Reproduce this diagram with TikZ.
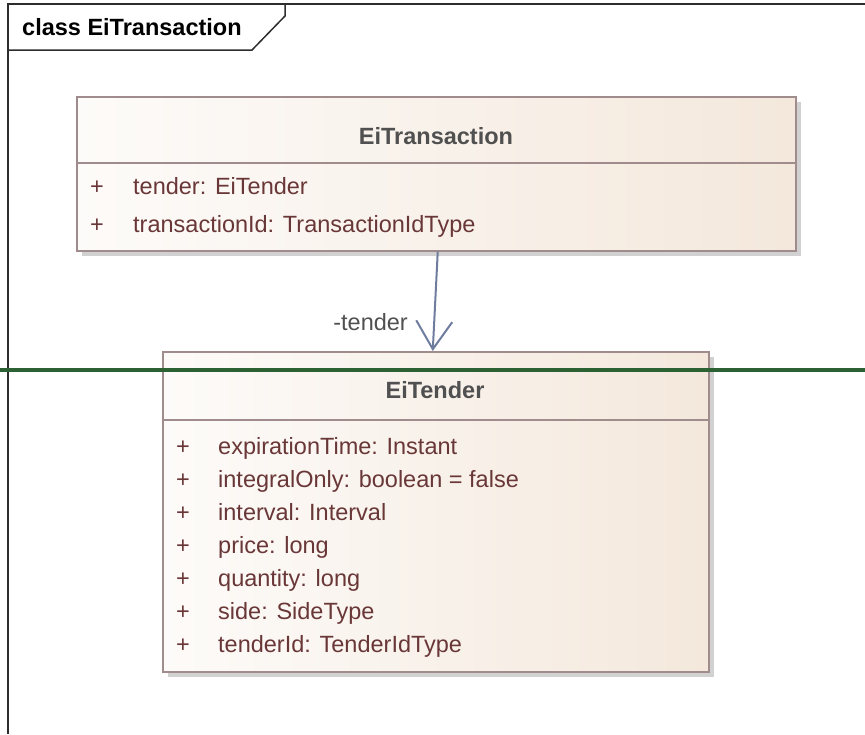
\documentclass[tikz,border=0pt]{standalone}
\usepackage{fontspec}
\setmainfont{Liberation Sans}
\usepackage{xcolor}
\usetikzlibrary{arrows.meta, shadows}
\definecolor{BoxLeft}{RGB}{253,251,249}
\definecolor{BoxRight}{RGB}{244,232,220}
\definecolor{BoxLine}{RGB}{160,140,140}
\definecolor{AttrText}{RGB}{105,55,55}
\definecolor{TitleText}{RGB}{80,80,80}
\definecolor{Assoc}{RGB}{110,124,158}
\definecolor{FrameLine}{RGB}{45,45,45}
\definecolor{Divider}{RGB}{44,98,51}
\tikzset{
umlbox/.style={rectangle, draw=BoxLine, line width=1.5pt, left color=BoxLeft, right color=BoxRight, anchor=north west, inner sep=0pt, drop shadow={shadow xshift=5pt, shadow yshift=-5pt, fill=black!18, opacity=1}},
boxline/.style={draw=BoxLine, line width=1.5pt},
}
\begin{document}
\begin{tikzpicture}[
  x=1pt, y=-1pt,
  every node/.style={inner sep=0pt, text height=19pt, text depth=5pt},
  umltitle/.style={font=\fontsize{23.5}{24}\selectfont\bfseries, text=TitleText},
  attr/.style={anchor=west, font=\fontsize{23.5}{24}\selectfont, text=AttrText},
  vis/.style={font=\fontsize{23.5}{24}\selectfont, text=AttrText},
  rolelbl/.style={anchor=east, font=\fontsize{23.5}{24}\selectfont, text=TitleText},
  frame/.style={draw=FrameLine, line width=1.5pt},
]
\useasboundingbox (0,0) rectangle (865,734);

%% ---- diagram frame ----
\draw[frame] (8,734) -- (8,4) -- (865,4);
\draw[frame] (285,4) -- (285,16) -- (252,50) -- (8,50);
\node[anchor=west, font=\fontsize{23.5}{24}\selectfont\bfseries] (frametitle) at (22,28) {class EiTransaction};

%% ---- EiTransaction ----
\node[umlbox, minimum width=719pt, minimum height=154pt, text height=, text depth=] (trans) at (76,96) {};
\draw[boxline] (trans.west |- 0,163) -- (trans.east |- 0,163);
\node[umltitle] (transname) at (436,137) {EiTransaction};
\foreach \txt [count=\i] in {tender: EiTender, transactionId: TransactionIdType}
{
  \node[vis] (tplus\i) at (97,149+38*\i) {+};
  \node[attr] (tattr\i) at (133,149+38*\i) {\txt};
}

%% ---- EiTender ----
\node[umlbox, minimum width=546pt, minimum height=320pt, text height=, text depth=] (tender) at (162,351) {};
\draw[boxline] (tender.west |- 0,420) -- (tender.east |- 0,420);
\node[umltitle] (tendername) at (435,391) {EiTender};
\foreach \txt [count=\i] in {expirationTime: Instant, integralOnly: boolean = false,
  interval: Interval, price: long, quantity: long, side: SideType, tenderId: TenderIdType}
{
  \node[vis] (eplus\i) at (183,414+33*\i) {+};
  \node[attr] (eattr\i) at (218,414+33*\i) {\txt};
}

%% ---- association ----
\draw[draw=Assoc, line width=2pt, -{Straight Barb[length=28pt, width=36pt, line width=2pt]}]
  ([xshift=1.5pt]trans.south) -- ([xshift=-3pt]tender.north);
\node[rolelbl] (role) at (408,323) {-tender};

%% ---- divider ----
\draw[draw=Divider, line width=4pt] (0,370) -- (865,370);
\end{tikzpicture}
\end{document}
